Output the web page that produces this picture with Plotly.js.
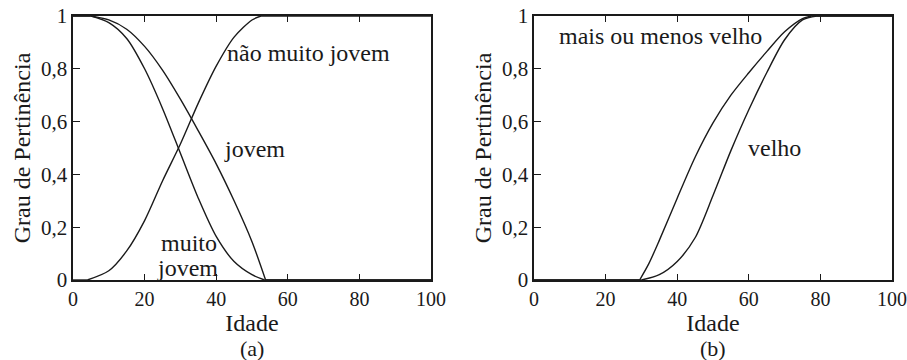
<!DOCTYPE html>
<html>
<head>
<meta charset="utf-8">
<script src="https://cdn.plot.ly/plotly-3.0.1.min.js"></script>
<style>html,body{margin:0;padding:0;background:#fff;}#chart{width:907px;height:360px;}</style>
</head>
<body>
<div id="chart"></div>
<script>
// Panel (a): transition parts (plateaus before/after are flat at the end values)
const jovemX = [5, 10, 15, 20, 25, 30, 35, 40, 45, 50, 53.8];
const jovemY = [1, 0.985, 0.95, 0.885, 0.795, 0.685, 0.565, 0.44, 0.30, 0.145, 0];
const muitoJovemX = [5, 10, 15, 20, 25, 30, 35, 40, 45, 50, 53.5];
const muitoJovemY = [1, 0.975, 0.915, 0.80, 0.65, 0.48, 0.31, 0.165, 0.07, 0.02, 0];
const naoMuitoJovemX = [4, 10, 15, 20, 25, 30, 35, 40, 45, 50, 52.5];
const naoMuitoJovemY = [0, 0.035, 0.11, 0.225, 0.375, 0.515, 0.67, 0.81, 0.92, 0.985, 1];
// Panel (b)
const maisOuMenosVelhoX = [29.5, 32, 35, 40, 45, 50, 55, 60, 65, 70, 75, 77.5];
const maisOuMenosVelhoY = [0, 0.06, 0.15, 0.31, 0.465, 0.595, 0.70, 0.785, 0.865, 0.94, 0.99, 1];
const velhoX = [30, 35, 40, 45, 50, 55, 60, 65, 70, 75, 79];
const velhoY = [0, 0.02, 0.07, 0.16, 0.32, 0.49, 0.645, 0.785, 0.91, 0.985, 1];

const xTicks = [0, 20, 40, 60, 80, 100];
const yTicks = [0, 0.2, 0.4, 0.6, 0.8, 1];
const yTickText = ['0', '0,2', '0,4', '0,6', '0,8', '1'];

const FONT = 'Liberation Serif';
const INK = '#1a1a1a';

function curve(x, y, xa, ya, name) {
  const ln = {color: INK, width: 1.4};
  return [
    {x: x, y: y, xaxis: xa, yaxis: ya, name: name, type: 'scatter', mode: 'lines',
      line: Object.assign({shape: 'spline', smoothing: 0.8}, ln), showlegend: false},
    {x: [0, x[0]], y: [y[0], y[0]], xaxis: xa, yaxis: ya, name: name, type: 'scatter', mode: 'lines',
      line: ln, showlegend: false},
    {x: [x[x.length - 1], 100], y: [y[y.length - 1], y[y.length - 1]], xaxis: xa, yaxis: ya, name: name,
      type: 'scatter', mode: 'lines', line: ln, showlegend: false}
  ];
}

const data = [].concat(
  curve(jovemX, jovemY, 'x', 'y', 'jovem'),
  curve(muitoJovemX, muitoJovemY, 'x', 'y', 'muito jovem'),
  curve(naoMuitoJovemX, naoMuitoJovemY, 'x', 'y', 'não muito jovem'),
  curve(maisOuMenosVelhoX, maisOuMenosVelhoY, 'x2', 'y2', 'mais ou menos velho'),
  curve(velhoX, velhoY, 'x2', 'y2', 'velho')
);

function xax(domain, anchor) {
  return {domain: domain, anchor: anchor, range: [0, 100], tickvals: xTicks, ticks: 'inside', ticklen: 6,
    tickcolor: INK, tickwidth: 1.2, showline: true, linecolor: INK, linewidth: 1.6, mirror: 'ticks',
    showgrid: false, zeroline: false, ticklabeloverflow: 'allow',
    tickfont: {family: FONT, size: 20, color: INK},
    title: {text: 'Idade', font: {family: FONT, size: 24, color: INK}, standoff: 0}};
}
function yax(anchor) {
  return {domain: [0, 1], anchor: anchor, range: [0, 1], tickvals: yTicks, ticktext: yTickText,
    ticks: 'inside', ticklen: 7, tickcolor: INK, tickwidth: 1.2, showline: true, linecolor: INK,
    linewidth: 1.6, mirror: true, showgrid: false, zeroline: false,
    tickfont: {family: FONT, size: 21, color: INK},
    title: {text: 'Grau de Pertinência', font: {family: FONT, size: 24, color: INK}, standoff: 3}};
}

const ann = (x, y, xref, yref, text) => ({x: x, y: y, xref: xref, yref: yref, text: text, showarrow: false,
  xanchor: 'left', yanchor: 'middle', font: {family: FONT, size: 24, color: INK}});

const layout = {
  width: 907, height: 360,
  margin: {l: 73, r: 15, t: 16, b: 80},
  paper_bgcolor: '#fff', plot_bgcolor: '#fff',
  font: {family: FONT, color: INK},
  xaxis: xax([0, 0.4371], 'y'),
  yaxis: yax('x'),
  xaxis2: xax([0.5629, 1], 'y2'),
  yaxis2: yax('x2'),
  annotations: [
    ann(42.5, 0.86, 'x', 'y', 'não muito jovem'),
    ann(41.5, 0.496, 'x', 'y', 'jovem'),
    ann(24, 0.14, 'x', 'y', 'muito'),
    ann(23, 0.045, 'x', 'y', 'jovem'),
    ann(6.3, 0.924, 'x2', 'y2', 'mais ou menos velho'),
    ann(59.2, 0.5, 'x2', 'y2', 'velho'),
    {x: 50, y: -0.258, xref: 'x', yref: 'paper', yanchor: 'middle', text: '(a)', showarrow: false,
      font: {family: FONT, size: 22, color: INK}},
    {x: 50, y: -0.258, xref: 'x2', yref: 'paper', yanchor: 'middle', text: '(b)', showarrow: false,
      font: {family: FONT, size: 22, color: INK}}
  ]
};

Plotly.newPlot('chart', data, layout, {displayModeBar: false, staticPlot: true});
</script>
</body>
</html>
